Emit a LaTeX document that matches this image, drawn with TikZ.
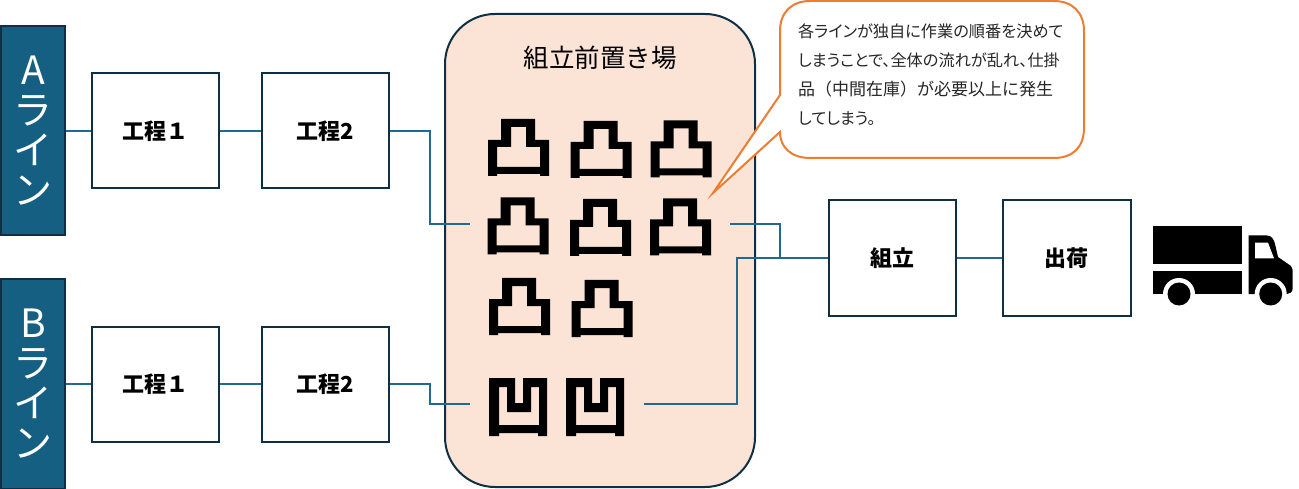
\documentclass[tikz,border=0pt]{standalone}
\usepackage{fontspec}
\setmainfont{Noto Sans CJK JP}
\newfontfamily\notefont[RawFeature=+palt]{Noto Sans CJK JP}
\definecolor{darkline}{HTML}{0E2F44}
\definecolor{linefill}{HTML}{156082}
\definecolor{wire}{HTML}{1F6A8E}
\definecolor{yardfill}{HTML}{FBE3D6}
\definecolor{calloutline}{HTML}{ED7D31}
\definecolor{calltext}{HTML}{262626}
\tikzset{
  x=1pt,y=-1pt,
  linebox/.style={draw=darkline,line width=2pt,fill=linefill,minimum width=64pt,minimum height=209pt,inner sep=0pt,text=white,align=center,font=\fontsize{39}{40}\selectfont},
  procbox/.style={draw=darkline,line width=2pt,fill=white,minimum width=127pt,minimum height=115pt,inner sep=0pt,font=\fontsize{22}{24}\selectfont\bfseries},
  wirel/.style={draw=wire,line width=1.7pt},
  pics/partup/.style={code={
    \fill[black,even odd rule] (13,0)--(47,0)--(47,21)--(61,21)--(61,57)--(52,57)--(52,55)--(9,55)--(9,57)--(0,57)--(0,21)--(13,21)--cycle
      (23,8)--(38,8)--(38,28)--(52,28)--(52,48)--(9,48)--(9,28)--(23,28)--cycle;
  }},
  pics/partdown/.style={code={
    \fill[black,even odd rule] (0,0)--(26,0)--(26,25)--(34,25)--(34,0)--(58,0)--(58,58)--(49,58)--(49,55)--(10,55)--(10,58)--(0,58)--cycle
      (10,9)--(18,9)--(18,34)--(42,34)--(42,9)--(50,9)--(50,47)--(10,47)--cycle;
  }}
}
\begin{document}
\begin{tikzpicture}
\useasboundingbox (0,0) rectangle (1299,489);
% nodes
\node[linebox] (lineA) at (33,131) {A\\ラ\\イ\\ン};
\node[linebox] (lineB) at (33,384) {B\\ラ\\イ\\ン};
\node[procbox] (a1) at (155.5,131) {\raisebox{-2pt}{工程１}};
\node[procbox] (a2) at (325,131) {\raisebox{-2pt}{工程2}};
\node[procbox] (b1) at (155.5,384) {\raisebox{-2pt}{工程１}};
\node[procbox] (b2) at (325,384) {\raisebox{-2pt}{工程2}};
\node[procbox] (asm) at (892.5,258) {\raisebox{-1pt}{組立}};
\node[procbox,minimum width=128pt] (ship) at (1066.5,258) {\raisebox{-1pt}{出荷}};
\node[draw=darkline,line width=2pt,fill=yardfill,rounded corners=50pt,minimum width=310pt,minimum height=473pt,inner sep=0pt] (yard) at (600,250.5) {};
\node[font=\fontsize{25.5}{28}\selectfont,text=black] (yardlabel) at (600,58) {組立前置き場};
% connector free ends
\coordinate (inA) at (470,224);
\coordinate (inB) at (470,404);
\coordinate (outA) at (730,224);
\coordinate (outB) at (644,404);
% connectors
\draw[wirel] (lineA.east) -- (a1.west);
\draw[wirel] (a1.east) -- (a2.west);
\draw[wirel] (lineB.east) -- (b1.west);
\draw[wirel] (b1.east) -- (b2.west);
\draw[wirel] (a2.east) -- (430,131) -- (430,224) -- (inA);
\draw[wirel] (b2.east) -- (430,384) -- (430,404) -- (inB);
\draw[wirel] (outA) -- (780,224) -- (780,258) -- (asm.west);
\draw[wirel] (outB) -- (737,404) -- (737,258) -- (asm.west);
\draw[wirel] (asm.east) -- (ship.west);
% parts
\foreach \x/\y in {488/119,570.5/121,650.5/120.5,487.5/197.5,570/199,650/198.5,489/278,571.5/280}
  \pic at (\x,\y) {partup};
\pic at (489,378) {partdown};
\pic at (566,378) {partdown};
% callout
\draw[draw=calloutline,line width=2pt,fill=white,line join=miter]
  (780,95) -- (713,193) -- (780,132)
  .. controls (780,148) and (792,158) .. (810,158) -- (1054,158)
  .. controls (1072,158) and (1084,148) .. (1084,128) -- (1084,31)
  .. controls (1084,12) and (1072,1) .. (1054,1) -- (810,1)
  .. controls (792,1) and (780,12) .. (780,31) -- cycle;
\node[anchor=north west,inner sep=0pt,align=left,text=calltext,font=\notefont\fontsize{16.2}{29}\selectfont] (note) at (798,24)
  {各ラインが独自に作業の順番を決めて\\しまうことで、全体の流れが乱れ、仕掛\\{\normalfont\fontsize{17}{29}\selectfont 品（中間在庫）が必要以上に発生}\\してしまう。};
% truck
\fill[black] (1153.3,225.7) rectangle (1242,264.3);
\fill[black] (1153.3,271.3) rectangle (1242,294);
\fill[black] (1248.7,294) -- (1248.7,235.3) -- (1266,235.3) .. controls (1272,235.3) and (1274,240) .. (1275,244) -- (1278,257) -- (1291,266) .. controls (1292.5,267.5) and (1292.7,268) .. (1292.7,270) -- (1292.7,288) .. controls (1292.7,292) and (1290,294) .. (1287,294) -- cycle;
\fill[white] (1255,242.7) -- (1268,242.7) -- (1274,258.3) -- (1255,258.3) -- cycle;
\fill[white] (1179,294) circle[radius=16];
\fill[white] (1270.7,294) circle[radius=16];
\fill[black] (1179,294) circle[radius=11.5];
\fill[black] (1270.7,294) circle[radius=11.5];
\end{tikzpicture}
\end{document}
